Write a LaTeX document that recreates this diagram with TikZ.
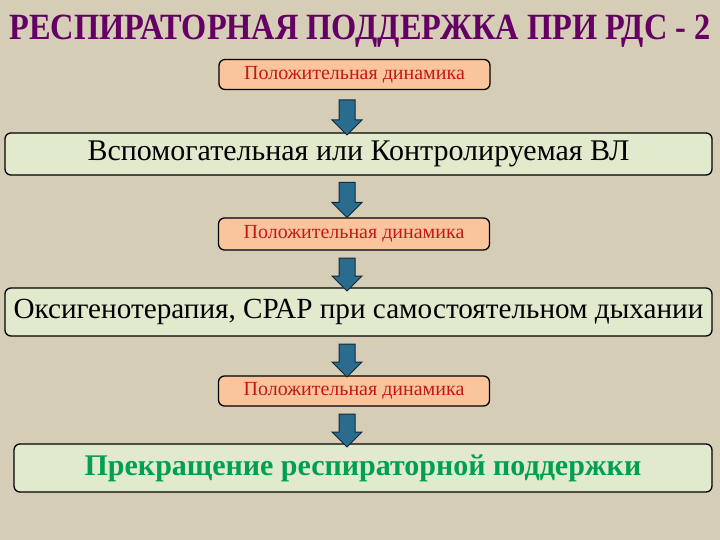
\documentclass[tikz,border=0pt]{standalone}
\usepackage{fontspec}
\setmainfont{Liberation Serif}
\usetikzlibrary{shapes.arrows}
\definecolor{bg}{RGB}{214,205,182}
\definecolor{titlecol}{RGB}{100,0,100}
\definecolor{peach}{RGB}{250,196,156}
\definecolor{redtxt}{RGB}{196,24,24}
\definecolor{greenbox}{RGB}{226,234,206}
\definecolor{greentxt}{RGB}{0,160,80}
\definecolor{arrowblue}{RGB}{42,108,142}
\definecolor{arrowdark}{RGB}{20,40,55}
\begin{document}
\begin{tikzpicture}[x=1pt,y=-1pt,
  box/.style={draw=black, line width=1.3pt, rounded corners=6pt, inner sep=0pt},
  smallbox/.style={box, fill=peach, minimum width=271pt, minimum height=30pt,
    font=\fontsize{20}{24}\selectfont, text=redtxt},
  bigbox/.style={box, fill=greenbox, minimum width=707pt, minimum height=44pt,
    font=\fontsize{30}{34}\selectfont, text=black},
  downarrow/.style={single arrow, shape border rotate=270, fill=arrowblue,
    draw=arrowdark, line width=1pt, inner sep=7.5pt,
    single arrow head extend=7pt, single arrow tip angle=90}]
\fill[bg] (0,0) rectangle (720,540);
\node[font=\bfseries\fontsize{37}{40}\selectfont, text=titlecol, inner sep=0pt] (title) at (360,31)
  {\scalebox{0.875}[1]{РЕСПИРАТОРНАЯ ПОДДЕРЖКА ПРИ РДС - 2}};
\node[smallbox] (b1) at (354.5,74.5) {Положительная динамика};
\node[bigbox, minimum height=42pt] (b2) at (358.5,154) {Вспомогательная или Контролируемая ВЛ};
\node[smallbox, minimum height=32pt] (b3) at (354,234) {Положительная динамика};
\node[bigbox, minimum height=48pt, font=\fontsize{29.2}{33}\selectfont] (b4) at (358.5,312) {Оксигенотерапия, СРАР при самостоятельном дыхании};
\node[smallbox] (b5) at (354,391) {Положительная динамика};
\node[bigbox, minimum width=698pt, minimum height=48pt, font=\bfseries\fontsize{30}{34}\selectfont, text=greentxt] (b6) at (363,468) {Прекращение респираторной поддержки};
\node[downarrow, minimum height=35pt] (a1) at (347,113.5) {};
\node[downarrow, minimum height=35pt] (a2) at (347,196) {};
\node[downarrow, minimum height=33pt] (a3) at (347,270.5) {};
\node[downarrow, minimum height=33pt] (a4) at (347,356.5) {};
\node[downarrow, minimum height=33pt] (a5) at (347,426.5) {};
\end{tikzpicture}
\end{document}
